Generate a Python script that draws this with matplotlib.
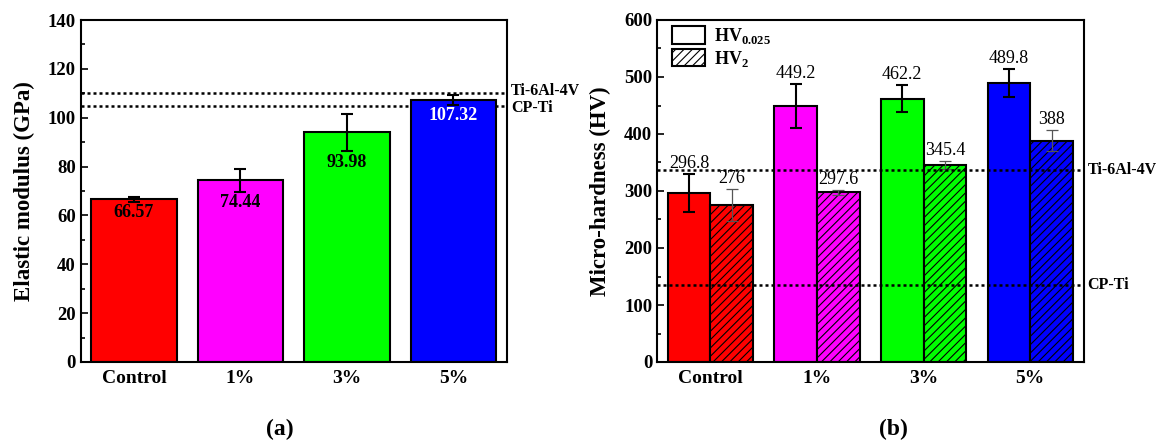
import matplotlib
matplotlib.use("Agg")
import matplotlib.pyplot as plt
from matplotlib.patches import Rectangle
from matplotlib.ticker import MultipleLocator

plt.rcParams['font.family'] = ['Liberation Serif', 'DejaVu Serif']
plt.rcParams['font.weight'] = 'bold'
plt.rcParams['hatch.linewidth'] = 0.8
plt.rcParams['mathtext.fontset'] = 'custom'
plt.rcParams['mathtext.rm'] = 'Liberation Serif:bold'
plt.rcParams['mathtext.bf'] = 'Liberation Serif:bold'

# ---- data ----
categories = ['Control', '1%', '3%', '5%']
colors = ['#FF0000', '#FF00FF', '#00FF00', '#0000FF']

modulus = [66.57, 74.44, 93.98, 107.32]
modulus_err = [0.9, 4.7, 7.5, 2.0]
modulus_refs = {'Ti-6Al-4V': 110, 'CP-Ti': 105}

hv0025 = [296.8, 449.2, 462.2, 489.8]
hv0025_err = [33, 38.5, 24, 24.5]
hv2 = [276, 297.6, 345.4, 388]
hv2_err = [28, 4, 7, 18.5]
hardness_refs = {'Ti-6Al-4V': 336.5, 'CP-Ti': 135.7}

W, H = 1164, 442
fig = plt.figure(figsize=(W / 100, H / 100), dpi=100)
ax1 = fig.add_axes([80.7 / W, 1 - 362 / H, 426 / W, 342 / H])
ax2 = fig.add_axes([657 / W, 1 - 362 / H, 426.5 / W, 342 / H])

x = list(range(len(categories)))

def style_axis(ax):
    for s in ax.spines.values():
        s.set_linewidth(1.5)
    ax.tick_params(axis='both', which='both', direction='in', top=False, right=False,
                   labelsize=13.5, width=1.2)
    ax.tick_params(axis='both', which='major', length=5)
    ax.tick_params(axis='y', which='minor', length=3)
    ax.set_xlim(-0.5, 3.5)
    ax.set_xticks(x)
    ax.set_xticklabels(categories, fontsize=14, fontweight='bold')
    ax.tick_params(axis='x', pad=6)

# ---- panel (a) ----
ax1.bar(x, modulus, width=0.8, color=colors, edgecolor='black', linewidth=1.5, zorder=2)
ax1.errorbar(x, modulus, yerr=modulus_err, fmt='none', ecolor='black', elinewidth=1.5,
             capsize=4, capthick=1.5, zorder=3)
for xi, v, e, c in zip(x, modulus, modulus_err, colors):
    ax1.annotate(f'{v:g}', (xi, v - e), xytext=(0, -2), textcoords='offset points',
                 ha='center', va='top', fontsize=13, fontweight='bold',
                 color='white' if c == '#0000FF' else 'black', zorder=4)
for (name, val), dy in zip(modulus_refs.items(), (1.5, -1.5)):
    ax1.axhline(val, color='black', linestyle=(0, (1.2, 1.2)), linewidth=1.8, zorder=1)
    ax1.annotate(name, (1.0, val), xycoords=('axes fraction', 'data'), xytext=(3, dy),
                 textcoords='offset points', ha='left', va='center', fontsize=11.5,
                 fontweight='bold', annotation_clip=False)
ax1.set_ylim(0, 140)
ax1.yaxis.set_major_locator(MultipleLocator(20))
ax1.yaxis.set_minor_locator(MultipleLocator(10))
ax1.set_ylabel('Elastic modulus (GPa)', fontsize=16.5, fontweight='bold', labelpad=9)
style_axis(ax1)

# ---- panel (b) ----
bw = 0.4
x_a = [xi - bw / 2 for xi in x]
x_b = [xi + bw / 2 for xi in x]
ax2.bar(x_a, hv0025, width=bw, color=colors, edgecolor='black', linewidth=1.5, zorder=2)
ax2.bar(x_b, hv2, width=bw, color=colors, edgecolor='black', linewidth=1.5,
        hatch='////', zorder=2)
ax2.errorbar(x_a, hv0025, yerr=hv0025_err, fmt='none', ecolor='black', elinewidth=1.5,
             capsize=4, capthick=1.5, zorder=3)
ax2.errorbar(x_b, hv2, yerr=hv2_err, fmt='none', ecolor='#555555', elinewidth=0.9,
             capsize=4, capthick=0.9, zorder=3)
for xs, vals, errs in ((x_a, hv0025, hv0025_err), (x_b, hv2, hv2_err)):
    for xi, v, e in zip(xs, vals, errs):
        ax2.annotate(f'{v:g}', (xi, v + e), xytext=(0, 1.5), textcoords='offset points',
                     ha='center', va='bottom', fontsize=13, fontweight='normal', zorder=4)
for name, val in hardness_refs.items():
    ax2.axhline(val, color='black', linestyle=(0, (1.2, 1.2)), linewidth=1.8, zorder=5)
    ax2.annotate(name, (1.0, val), xycoords=('axes fraction', 'data'), xytext=(3, 0),
                 textcoords='offset points', ha='left', va='center', fontsize=11.5,
                 fontweight='bold', annotation_clip=False)
ax2.set_ylim(0, 600)
ax2.yaxis.set_major_locator(MultipleLocator(100))
ax2.yaxis.set_minor_locator(MultipleLocator(50))
ax2.set_ylabel('Micro-hardness (HV)', fontsize=16.5, fontweight='bold', labelpad=9)
style_axis(ax2)

h1 = Rectangle((0, 0), 1, 1, facecolor='white', edgecolor='black', linewidth=1.5)
h2 = Rectangle((0, 0), 1, 1, facecolor='white', edgecolor='black', linewidth=1.5, hatch='////')
ax2.legend([h1, h2], [r'HV$_{0.025}$', r'HV$_{2}$'], loc='upper left', frameon=False,
           handlelength=1.85, handleheight=1.15, handletextpad=0.5,
           labelspacing=0.12, borderaxespad=0.1, borderpad=0.25,
           prop={'weight': 'bold', 'size': 13}, bbox_to_anchor=(0.02, 1.0))

fig.text(280 / W, 1 - 429 / H, '(a)', ha='center', va='center', fontsize=17, fontweight='bold')
fig.text(893 / W, 1 - 429 / H, '(b)', ha='center', va='center', fontsize=17, fontweight='bold')

fig.savefig('out.png', dpi=100)
